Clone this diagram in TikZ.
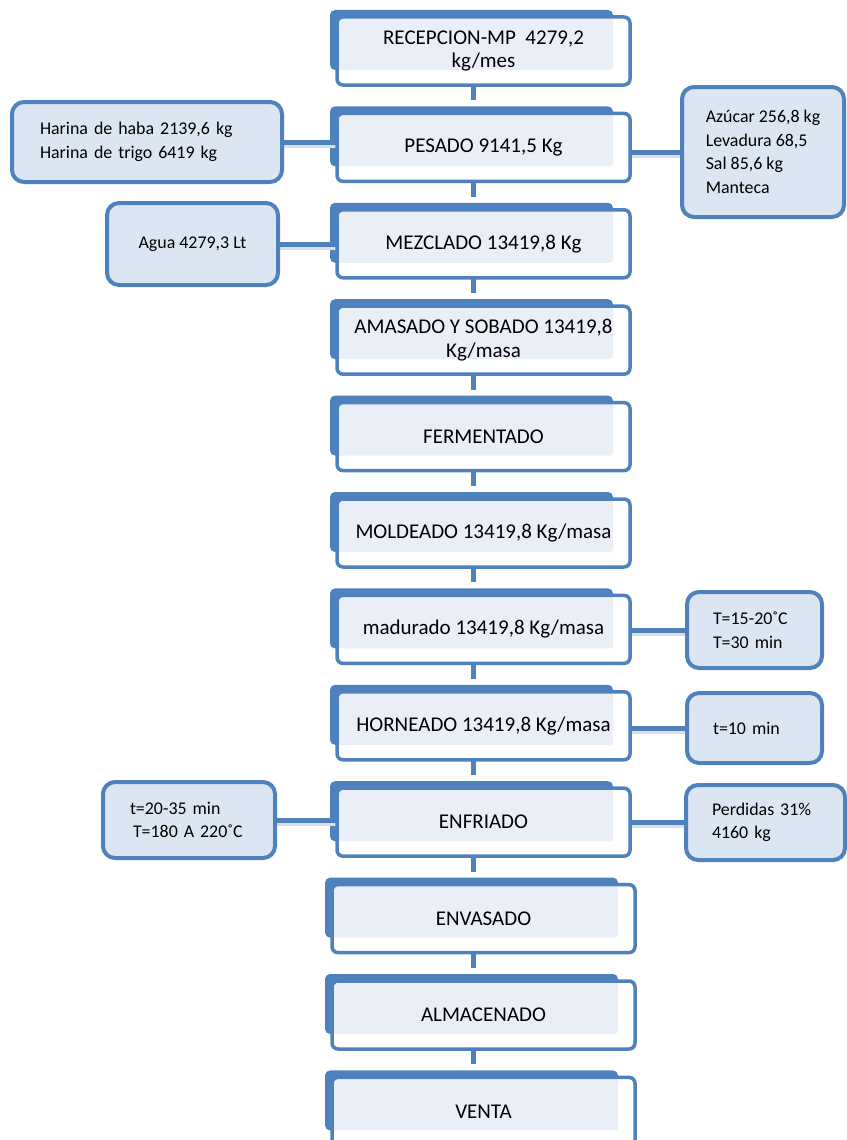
\documentclass[tikz,border=0pt]{standalone}
\usepackage{fontspec}
\setmainfont{Carlito}
\usetikzlibrary{positioning,backgrounds}
\definecolor{azul}{HTML}{4F81BD}
\definecolor{claro}{HTML}{EAEFF7}
\definecolor{celeste}{HTML}{DCE6F2}
\tikzset{
  paso/.style={draw=azul, line width=3.5pt, fill=white, rounded corners=6pt,
    minimum width=293pt, minimum height=68pt, outer sep=0pt, inner sep=2pt,
    align=center, font=\fontsize{21}{23.5}\selectfont,
    path picture={\fill[claro, rounded corners=3pt]
      ([yshift=15pt]path picture bounding box.south west) rectangle
      ([xshift=-17pt]path picture bounding box.north east);}},
  dato/.style={draw=azul, line width=4pt, fill=celeste, rounded corners=12pt,
    align=left, font=\fontsize{17.9}{23.5}\selectfont},
  enlace/.style={draw=azul, line width=5pt},
  lado/.style={enlace, preaction={draw=black!13, line width=5pt,
    transform canvas={yshift=-3pt}}}
}

\begin{document}
\begin{tikzpicture}[x=1pt, y=-1pt, node distance=28.4pt]
  \useasboundingbox (0,0) rectangle (846,1140);

  % proceso
  \node [paso] at (483.5,51) (recep) {RECEPCION-MP\ \ 4279,2\\kg/mes};
  \node [paso, below=of recep] (pesado) {PESADO 9141,5 Kg};
  \node [paso, below=of pesado] (mezclado) {MEZCLADO 13419,8 Kg};
  \node [paso, below=of mezclado] (amasado) {AMASADO Y SOBADO 13419,8\\Kg/masa};
  \node [paso, below=of amasado] (fermentado) {FERMENTADO};
  \node [paso, below=of fermentado] (moldeado) {MOLDEADO 13419,8 Kg/masa};
  \node [paso, below=of moldeado] (madurado) {madurado 13419,8 Kg/masa};
  \node [paso, below=of madurado] (horneado) {HORNEADO 13419,8 Kg/masa};
  \node [paso, below=of horneado] (enfriado) {ENFRIADO};
  \node [paso, below=of enfriado, minimum width=303pt] (envasado) {ENVASADO};
  \node [paso, below=of envasado, minimum width=303pt] (almacenado) {ALMACENADO};
  \node [paso, below=of almacenado, minimum width=303pt] (venta) {VENTA};

  % entradas y datos
  \node [dato, minimum width=270pt, minimum height=80pt, text width=214pt]
    at (147,142) (harinas) {Harina de haba 2139,6 kg\\Harina de trigo 6419 kg};
  \node [dato, minimum width=171pt, minimum height=82pt, align=center]
    at (192.5,244) (agua) {Agua 4279,3 Lt};
  \node [dato, minimum width=162pt, minimum height=130pt]
    at (763,152) (insumos) {Azúcar 256,8 kg\\Levadura 68,5\\Sal 85,6 kg\\Manteca};
  \node [dato, minimum width=135pt, minimum height=76pt, text width=83pt]
    at (754.5,630) (reposo) {T=15-20˚C\\T=30 min};
  \node [dato, minimum width=135pt, minimum height=70pt, text width=83pt]
    at (754.5,728) (coccion) {t=10 min};
  \node [dato, minimum width=172pt, minimum height=76pt, text width=118pt]
    at (189,820) (horno) {t=20-35 min\\\hspace*{3pt}T=180 A 220˚C};
  \node [dato, minimum width=159pt, minimum height=75pt, text width=107pt]
    at (765.5,822.5) (perdidas) {Perdidas 31\%\\4160 kg};

  \begin{scope}[on background layer]
    \foreach \a/\b in {recep/pesado, pesado/mezclado, mezclado/amasado,
        amasado/fermentado, fermentado/moldeado, moldeado/madurado,
        madurado/horneado, horneado/enfriado, enfriado/envasado,
        envasado/almacenado, almacenado/venta}
      \draw [enlace] ([xshift=-10pt]\a.south) -- ([xshift=-10pt,yshift=13pt]\b.north);
    \foreach \n in {recep, pesado, mezclado, amasado, fermentado, moldeado,
        madurado, horneado, enfriado, envasado, almacenado, venta}
      \fill [azul, rounded corners=5pt] ([xshift=-7pt,yshift=15pt]\n.south west)
        rectangle ([xshift=-17pt,yshift=7pt]\n.north east);
    \draw [lado] (harinas.east) -- (harinas.east -| pesado.west);
    \draw [lado] (agua.east) -- (agua.east -| mezclado.west);
    \draw [lado] (insumos.west -| pesado.east) -- (insumos.west);
    \draw [lado] (reposo.west -| madurado.east) -- (reposo.west);
    \draw [lado] (coccion.west -| horneado.east) -- (coccion.west);
    \draw [lado] (horno.east) -- (horno.east -| enfriado.west);
    \draw [lado] (perdidas.west -| enfriado.east) -- (perdidas.west);
  \end{scope}
\end{tikzpicture}
\end{document}
